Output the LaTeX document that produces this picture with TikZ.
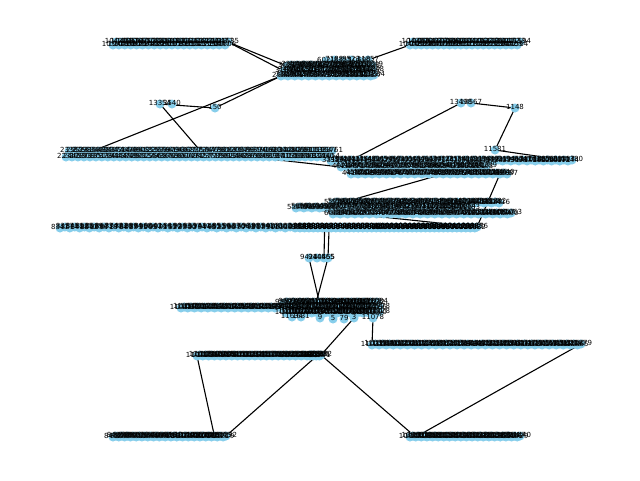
\documentclass[tikz,border=0pt]{standalone}
\usepackage{fontspec}
\setmainfont{DejaVu Sans}
\definecolor{nodeblue}{HTML}{87CEEB}
\pgfdeclarelayer{edgelayer}
\pgfsetlayers{edgelayer,main}
\tikzset{
  nd/.style={circle, fill=nodeblue, draw=none, inner sep=0pt, minimum size=9pt},
  lb/.style={inner sep=0pt, font=\fontsize{7}{8}\selectfont, text=black},
  edge/.style={draw=black, line width=1.1pt},
}
\newcommand{\bandcircles}[8]{%
  \foreach \i in {1,...,#5}{%
    \pgfmathsetmacro\xx{#2+(#3-#2)/(#5-1)*(\i-1)}%
    \pgfmathsetmacro\yy{#4+mod(\i,2)*#6}%
    \node[nd] (#1-\i) at (\xx,\yy) {};%
  }%
}
\newcommand{\bandlabels}[8]{%
  \foreach \i in {1,...,#5}{%
    \pgfmathsetmacro\xx{#2+(#3-#2)/(#5-1)*(\i-1)}%
    \pgfmathsetmacro\yy{#4+mod(\i,2)*#6}%
    \pgfmathtruncatemacro\lab{#7+(#8-#7)/(#5-1)*(\i-1)}%
    \node[lb] (#1-\i-l) at (\xx,\yy-1.5) {\lab};%
  }%
}
\newcommand{\onecircle}[4]{\node[nd] (#1) at (#2,#3) {};}
\newcommand{\onelabel}[4]{\node[lb] (#1-l) at (#2,#3-1.5) {#4};}
\newcommand{\allbands}{%
\bandcmd{A}{113}{228}{42}{40}{3}{10391}{11536}%
\bandcmd{B}{410}{520}{42}{40}{3}{10402}{11595}%
\bandcmd{C1}{326}{368}{60}{6}{1}{6021}{11858}%
\bandcmd{C2}{287}{372}{65}{26}{1}{3021}{11250}%
\bandcmd{C3}{284}{373}{70}{28}{1}{3105}{11249}%
\bandcmd{C4}{281}{374}{75}{28}{1}{2980}{11835}%
\onecmd{D1}{160}{104}{13354}%
\onecmd{D2}{172}{104}{3540}%
\onecmd{D3}{215}{108}{150}%
\onecmd{E1}{461}{103}{13498}%
\onecmd{E2}{471}{103}{10567}%
\onecmd{E3}{515}{108}{1148}%
\onecmd{E4}{495}{150}{11581}%
\bandcmd{F}{66}{332}{151}{90}{6}{2231}{11762}%
\bandcmd{G1}{331}{572}{160}{60}{1}{3318}{11381}%
\bandcmd{G2}{341}{486}{166}{40}{1}{4026}{11290}%
\bandcmd{G3}{351}{507}{173}{45}{1}{4410}{10888}%
\bandcmd{H1}{333}{499}{202}{45}{1}{5520}{11416}%
\bandcmd{H2}{296}{469}{207}{45}{1}{5540}{11183}%
\bandcmd{H3}{333}{511}{213}{50}{1}{6001}{11064}%
\bandcmd{I1}{60}{300}{227}{50}{1}{8341}{10150}%
\bandcmd{I2}{300}{477}{227}{80}{1}{8720}{11457}%
\onecmd{J1}{309}{258}{9424}%
\onecmd{J2}{317}{258}{9445}%
\onecmd{J3}{324}{258}{10455}%
\onecmd{J4}{328}{258}{465}%
\bandcmd{K1}{284}{377}{302}{30}{1}{9551}{11085}%
\bandcmd{K2}{181}{379}{307}{60}{1}{11042}{11779}%
\bandcmd{K3}{286}{379}{312}{30}{1}{10012}{11129}%
\onecmd{K4}{292}{317}{11634}%
\onecmd{K5}{301}{317}{1631}%
\onecmd{K6}{320}{318}{9}%
\onecmd{K7}{333}{319}{5}%
\onecmd{K8}{344}{319}{79}%
\onecmd{K9}{354}{318}{3}%
\onecmd{K10}{373}{318}{11078}%
\bandcmd{L}{372}{581}{344}{60}{1}{11021}{11880}%
\bandcmd{M1}{197}{310}{355}{40}{1}{11011}{11260}%
\bandcmd{M2}{310}{321}{355}{8}{1}{11301}{11383}%
\bandcmd{N}{113}{226}{436}{40}{1}{8412}{11293}%
\bandcmd{O}{410}{520}{436}{40}{1}{10987}{11441}%
}
\begin{document}
\begin{tikzpicture}[x=1pt,y=-1pt]
\useasboundingbox (0,0) rectangle (640,480);
\begin{pgfonlayer}{edgelayer}
\fill[white] (0,0) rectangle (640,480);
\end{pgfonlayer}
\let\bandcmd\bandcircles
\let\onecmd\onecircle
\allbands
\let\bandcmd\bandlabels
\let\onecmd\onelabel
\allbands
\begin{pgfonlayer}{edgelayer}
\draw[edge] (A-40.center) -- (C2-1.center);
\draw[edge] (A-40.center) -- (C3-1.center);
\draw[edge] (C4-1.center) -- (F-10.center);
\draw[edge] (C1-6.center) -- (B-1.center);
\draw[edge] (D1.center) -- (D3.center);
\draw[edge] (D1.center) -- (F-46.center);
\draw[edge] (D3.center) -- (C4-1.center);
\draw[edge] (E1.center) -- (G1-6.center);
\draw[edge] (E2.center) -- (E3.center);
\draw[edge] (E3.center) -- (E4.center);
\draw[edge] (E4.center) -- (G1-58.center);
\draw[edge] (F-63.center) -- (G2-1.center);
\draw[edge] (G3-43.center) -- (I2-80.center);
\draw[edge] (G3-28.center) -- (H1-4.center);
\draw[edge] (H2-1.center) -- (I2-80.center);
\draw[edge] (I2-12.center) -- (J3.center);
\draw[edge] (I2-14.center) -- (J4.center);
\draw[edge] (J1.center) -- (K1-12.center);
\draw[edge] (J4.center) -- (K1-11.center);
\draw[edge] (K10.center) -- (L-1.center);
\draw[edge] (K9.center) -- (M2-8.center);
\draw[edge] (M1-1.center) -- (N-36.center);
\draw[edge] (M2-6.center) -- (N-40.center);
\draw[edge] (M2-8.center) -- (O-3.center);
\draw[edge] (L-60.center) -- (O-3.center);
\end{pgfonlayer}
\end{tikzpicture}
\end{document}
